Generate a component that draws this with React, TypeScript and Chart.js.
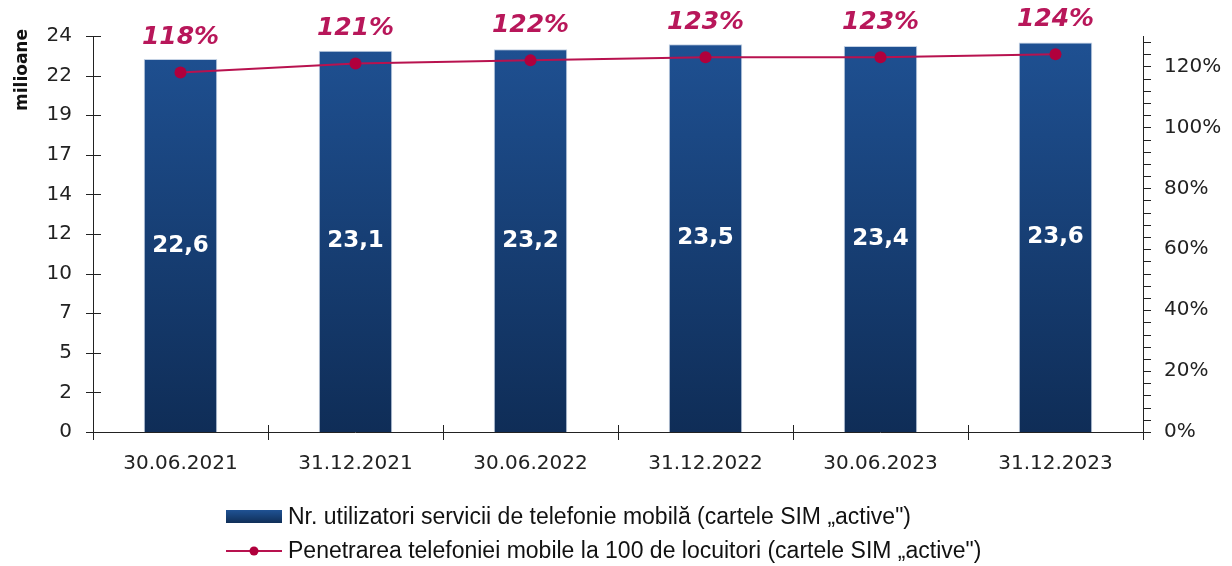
import React, { useEffect, useRef } from "react";
import { Chart, registerables } from "chart.js";

Chart.register(...registerables);

const categories = ["30.06.2021", "31.12.2021", "30.06.2022", "31.12.2022", "30.06.2023", "31.12.2023"];
const users = [22.6, 23.1, 23.2, 23.5, 23.4, 23.6];
const penetration = [118, 121, 122, 123, 123, 124];
const usersLabel = "Nr. utilizatori servicii de telefonie mobilă (cartele SIM „active\")";
const penetrationLabel = "Penetrarea telefoniei mobile la 100 de locuitori (cartele SIM „active\")";
const leftAxisTitle = "milioane";

const LINE_COLOR = "#B8124F";
const LABEL_COLOR = "#B8175A";
const AXIS_FONT = "DejaVu Sans";

const customDraw = {
  id: "customDraw",
  afterDraw(chart: any) {
    const { ctx, chartArea, scales } = chart;
    const x = scales.x;
    const y = scales.y;
    const y1 = scales.y1;
    ctx.save();
    ctx.strokeStyle = "#222";
    ctx.lineWidth = 1;
    // axis lines
    ctx.beginPath();
    ctx.moveTo(chartArea.left + 0.5, chartArea.top);
    ctx.lineTo(chartArea.left + 0.5, chartArea.bottom + 8);
    ctx.moveTo(chartArea.left, chartArea.bottom + 0.5);
    ctx.lineTo(chartArea.right, chartArea.bottom + 0.5);
    ctx.moveTo(chartArea.right + 0.5, chartArea.top);
    ctx.lineTo(chartArea.right + 0.5, chartArea.bottom + 8);
    ctx.stroke();
    // left ticks crossing
    ctx.beginPath();
    y.ticks.forEach((t: any) => {
      const py = Math.round(y.getPixelForValue(t.value)) + 0.5;
      ctx.moveTo(chartArea.left - 7, py);
      ctx.lineTo(chartArea.left + 8, py);
    });
    // right ticks outward
    y1.ticks.forEach((t: any) => {
      const py = Math.round(y1.getPixelForValue(t.value)) + 0.5;
      ctx.moveTo(chartArea.right, py);
      ctx.lineTo(chartArea.right + 8, py);
    });
    // x category boundary ticks
    for (let i = 1; i < categories.length; i++) {
      const px = Math.round((x.getPixelForValue(i - 1) + x.getPixelForValue(i)) / 2) + 0.5;
      ctx.moveTo(px, chartArea.bottom - 7);
      ctx.lineTo(px, chartArea.bottom + 8);
    }
    ctx.stroke();

    // bar value labels
    const barMeta = chart.getDatasetMeta(0);
    ctx.fillStyle = "#ffffff";
    ctx.font = `bold 23px ${AXIS_FONT}`;
    ctx.textAlign = "center";
    ctx.textBaseline = "middle";
    barMeta.data.forEach((bar: any, i: number) => {
      const cy = (bar.y + bar.base) / 2;
      ctx.fillText(users[i].toFixed(1).replace(".", ","), bar.x, cy);
    });

    // percentage labels
    const lineMeta = chart.getDatasetMeta(1);
    ctx.fillStyle = LABEL_COLOR;
    ctx.font = `italic bold 25px ${AXIS_FONT}`;
    lineMeta.data.forEach((pt: any, i: number) => {
      ctx.fillText(penetration[i] + "%", pt.x, pt.y - 35);
    });

    // left axis title
    ctx.save();
    ctx.translate(23, 70);
    ctx.rotate(-Math.PI / 2);
    ctx.fillStyle = "#111";
    ctx.font = `bold 17px ${AXIS_FONT}`;
    ctx.textAlign = "center";
    ctx.textBaseline = "middle";
    ctx.fillText(leftAxisTitle, 0, 0);
    ctx.restore();

    // legend
    const lx = 226;
    const lw = 56;
    const r1 = 516.5;
    const r2 = 551;
    const grad = ctx.createLinearGradient(0, r1 - 6, 0, r1 + 6);
    grad.addColorStop(0, "#1F5192");
    grad.addColorStop(1, "#10305A");
    ctx.fillStyle = grad;
    ctx.fillRect(lx, r1 - 6.5, lw, 13);
    ctx.strokeStyle = LINE_COLOR;
    ctx.lineWidth = 2;
    ctx.beginPath();
    ctx.moveTo(lx, r2);
    ctx.lineTo(lx + lw, r2);
    ctx.stroke();
    ctx.fillStyle = "#B0003C";
    ctx.beginPath();
    ctx.arc(lx + lw / 2, r2, 4.5, 0, Math.PI * 2);
    ctx.fill();
    ctx.fillStyle = "#111";
    ctx.font = `23px "Liberation Sans"`;
    ctx.textAlign = "left";
    ctx.textBaseline = "middle";
    ctx.fillText(usersLabel, lx + lw + 6, r1 + 1);
    ctx.fillText(penetrationLabel, lx + lw + 6, r2 + 1);
    ctx.restore();
  },
};

export default function App() {
  const canvasRef = useRef<HTMLCanvasElement | null>(null);

  useEffect(() => {
    if (!canvasRef.current) return;
    const chart = new Chart(canvasRef.current, {
      type: "bar",
      data: {
        labels: categories,
        datasets: [
          {
            type: "bar",
            label: usersLabel,
            data: users,
            yAxisID: "y",
            backgroundColor: (context: any) => {
              const { chart } = context;
              const { ctx, chartArea } = chart;
              if (!chartArea) return "#1A4580";
              const g = ctx.createLinearGradient(0, chartArea.top, 0, chartArea.bottom);
              g.addColorStop(0, "#1F5193");
              g.addColorStop(1, "#0F2D57");
              return g;
            },
            borderColor: "rgba(190,205,225,0.9)",
            borderWidth: { left: 1, right: 1, top: 1, bottom: 0 },
            barPercentage: 0.42,
            categoryPercentage: 1,
            order: 2,
          },
          {
            type: "line",
            label: penetrationLabel,
            data: penetration,
            yAxisID: "y1",
            borderColor: LINE_COLOR,
            backgroundColor: "#B0003C",
            borderWidth: 2,
            pointRadius: 6,
            pointHoverRadius: 6,
            pointBorderWidth: 0,
            tension: 0,
            order: 1,
          },
        ],
      },
      options: {
        animation: false,
        responsive: true,
        maintainAspectRatio: false,
        layout: { padding: { left: 0, right: 0, top: 36, bottom: 0 } },
        plugins: {
          legend: { display: false },
          tooltip: { enabled: false },
        },
        scales: {
          x: {
            type: "category",
            offset: true,
            grid: { display: false, drawTicks: false },
            border: { display: false },
            ticks: {
              color: "#222",
              font: { family: AXIS_FONT, size: 20 },
              padding: 20,
              maxRotation: 0,
            },
            afterFit: (scale: any) => {
              scale.height = 134;
            },
          },
          y: {
            type: "linear",
            position: "left",
            min: 0,
            max: 24,
            grid: { display: false, drawTicks: false },
            border: { display: false },
            ticks: {
              stepSize: 2.4,
              color: "#222",
              font: { family: AXIS_FONT, size: 20 },
              padding: 21,
              callback: (v: any) => String(Math.round(Number(v))),
            },
            afterFit: (scale: any) => {
              scale.width = 93;
            },
          },
          y1: {
            type: "linear",
            position: "right",
            min: 0,
            max: 130,
            grid: { display: false, drawTicks: false },
            border: { display: false },
            ticks: {
              stepSize: 4,
              includeBounds: false,
              autoSkip: false,
              color: "#222",
              font: { family: AXIS_FONT, size: 20 },
              padding: 21,
              callback: (v: any) => {
                const n = Math.round(Number(v));
                return n % 20 === 0 ? n + "%" : "";
              },
            },
            afterFit: (scale: any) => {
              scale.width = 89;
            },
          },
        },
      },
      plugins: [customDraw],
    });
    return () => chart.destroy();
  }, []);

  return (
    <div style={{ position: "absolute", left: 0, top: 0, width: 1232, height: 566, background: "#fff" }}>
      <canvas ref={canvasRef} />
    </div>
  );
}
